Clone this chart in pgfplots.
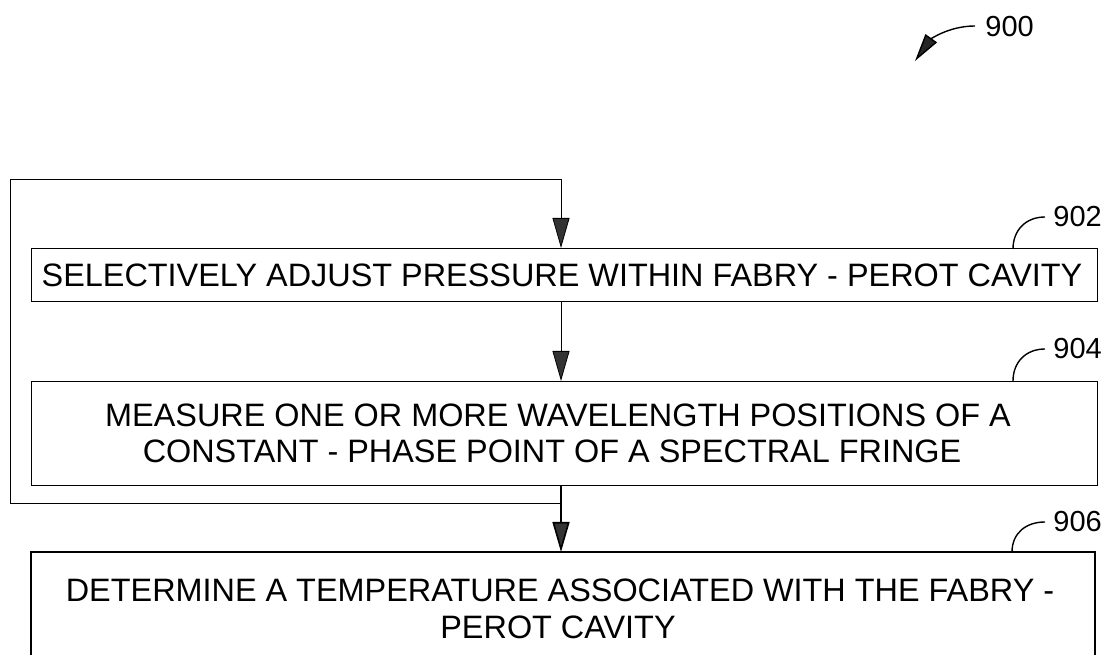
\documentclass[border=0pt]{standalone}
\usepackage{pgfplots}
\pgfplotsset{compat=1.18}
\usepackage{fontspec}
\setmainfont{Liberation Sans}
\usetikzlibrary{arrows.meta}

\begin{document}
\begin{tikzpicture}[
  boxtext/.style={font=\fontsize{16.2}{18}\selectfont, inner sep=0pt},
  reftext/.style={font=\fontsize{14.5}{16}\selectfont, inner sep=0pt},
  leader/.style={line width=0.7pt},
]
\begin{axis}[
  width=554.5pt, height=328pt, scale only axis,
  xmin=0, xmax=1109, ymin=0, ymax=656, y dir=reverse,
  hide axis, clip=false,
  cycle list={{black, mark=none, line width=0.8pt}},
]
\path (rel axis cs:0,0) rectangle (rel axis cs:1,1);
% boxes
\addplot coordinates {(31,248) (1097,248) (1097,301) (31,301) (31,248)};
\addplot coordinates {(31,381) (1097,381) (1097,485) (31,485) (31,381)};
\addplot coordinates {(31,655) (31,552) (1095,552) (1095,655)};
% feedback loop and arrows
\addplot+[-{Triangle[length=15pt,width=8.5pt,fill=black!80]}]
  coordinates {(561,503) (10,503) (10,179) (561,179) (561,248)};
\addplot+[-{Triangle[length=15pt,width=8.5pt,fill=black!80]}]
  coordinates {(561,301) (561,381)};
\addplot+[-{Triangle[length=15pt,width=8.5pt,fill=black!80]}]
  coordinates {(561,485) (561,552)};
% box texts
\node[boxtext] at (axis cs:562,275) {SELECTIVELY ADJUST PRESSURE WITHIN FABRY - PEROT CAVITY};
\node[boxtext] at (axis cs:558,415) {MEASURE ONE OR MORE WAVELENGTH POSITIONS OF A};
\node[boxtext] at (axis cs:552,451) {CONSTANT - PHASE POINT OF A SPECTRAL FRINGE};
\node[boxtext] at (axis cs:560,590) {DETERMINE A TEMPERATURE ASSOCIATED WITH THE FABRY -};
\node[boxtext] at (axis cs:558,627) {PEROT CAVITY};
% reference numerals
\draw[leader] (axis cs:1013,249) .. controls (axis cs:1013,230) and (axis cs:1026,217) .. (axis cs:1045,217);
\draw[leader] (axis cs:1013,381) .. controls (axis cs:1013,362) and (axis cs:1026,349) .. (axis cs:1045,349);
\draw[leader] (axis cs:1012,552) .. controls (axis cs:1012,534) and (axis cs:1025,522) .. (axis cs:1045,522);
\node[reftext, anchor=west] at (axis cs:1053,217) {902};
\node[reftext, anchor=west] at (axis cs:1053,349) {904};
\node[reftext, anchor=west] at (axis cs:1053,522) {906};
\node[reftext, anchor=west] at (axis cs:985,27) {900};
\draw[leader, -{Triangle[length=14pt,width=7pt,fill=black!85]}]
  (axis cs:975,26) .. controls (axis cs:948,26) and (axis cs:930,40) .. (axis cs:915,61);
\end{axis}
\end{tikzpicture}
\end{document}
